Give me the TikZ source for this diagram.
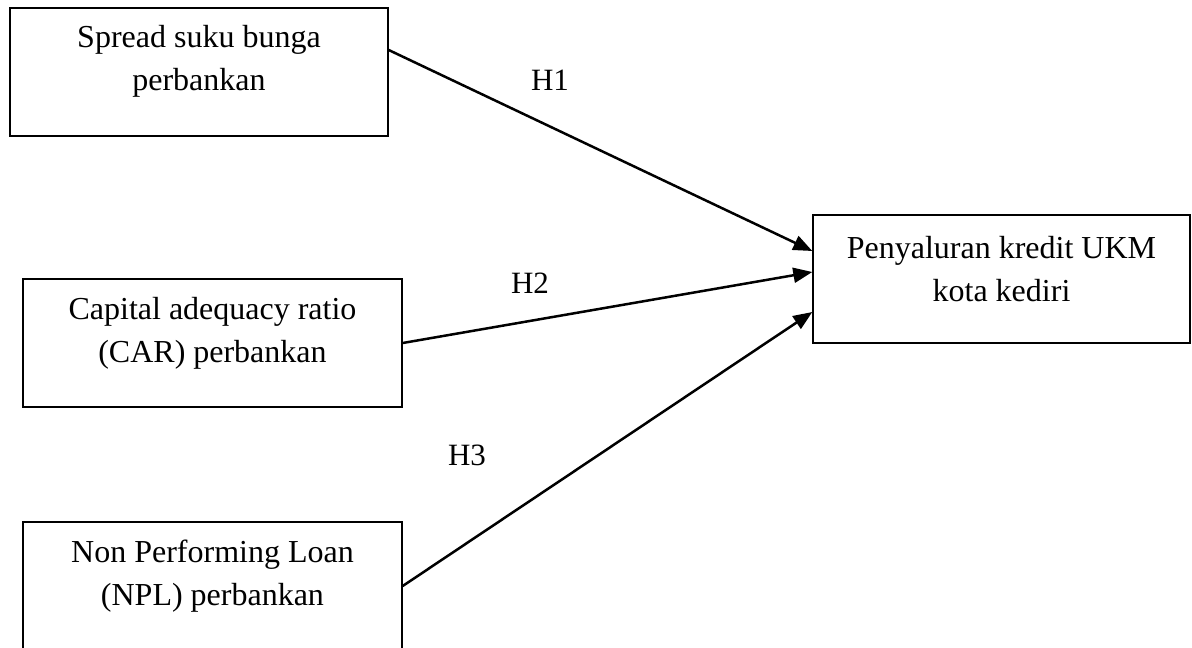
\documentclass[tikz,border=0pt]{standalone}
\usepackage{fontspec}
\setmainfont{Liberation Serif}
\usetikzlibrary{arrows.meta}
\tikzset{
  boxnode/.style={draw=black, line width=1.4pt, inner sep=0pt, minimum width=379pt, minimum height=128pt},
  boxtext/.style={inner sep=0pt, align=center, font=\fontsize{32}{43}\selectfont},
  hlabel/.style={inner sep=0pt, font=\fontsize{31}{36}\selectfont},
  link/.style={line width=2.5pt, -{Triangle[length=19pt,width=15pt]}}
}
\begin{document}
\begin{tikzpicture}[x=1pt,y=-1pt]
\clip (0,0) rectangle (1192,648);
\path[use as bounding box] (0,0) rectangle (1192,648);
\node[boxnode, minimum width=378pt] (b1) at (199,72) {};
\node[boxnode] (b2) at (212.5,343) {};
\node[boxnode] (b3) at (212.5,586) {};
\node[boxnode, minimum width=377pt] (b4) at (1001.5,279) {};
\node[boxtext] (t1) at ([yshift=11pt]b1.center) {Spread suku bunga\\perbankan};
\node[boxtext] (t2) at ([yshift=10pt]b2.center) {Capital adequacy ratio\\(CAR) perbankan};
\node[boxtext] (t3) at ([yshift=10pt]b3.center) {Non Performing Loan\\(NPL) perbankan};
\node[boxtext] (t4) at ([yshift=10pt]b4.center) {Penyaluran kredit UKM\\kota kediri};
\node[hlabel] (h1) at (550,80) {H1};
\node[hlabel] (h2) at (530,283) {H2};
\node[hlabel] (h3) at (467,455) {H3};
\draw[link] ([yshift=22pt]b1.east) -- ([yshift=28pt]b4.west);
\draw[link] (b2.east) -- ([yshift=7pt]b4.west);
\draw[link] (b3.east) -- ([yshift=-33pt]b4.west);
\end{tikzpicture}
\end{document}
